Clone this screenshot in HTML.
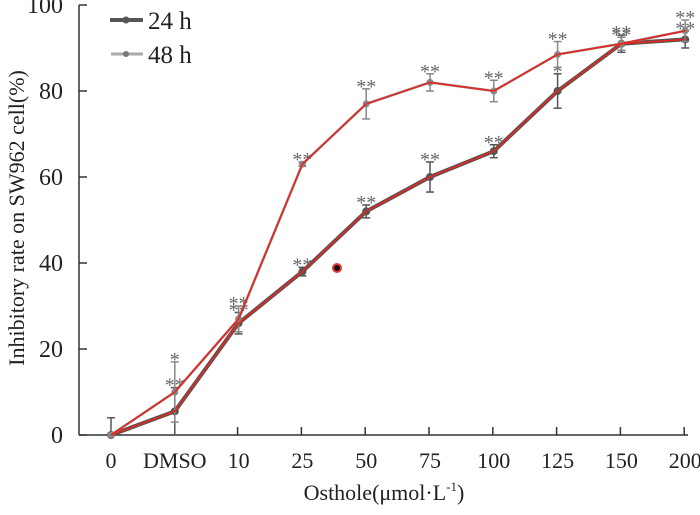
<!DOCTYPE html>
<html><head><meta charset="utf-8"><style>
body{margin:0;background:#fff;}
svg{display:block;font-family:"Liberation Serif",serif;}
</style></head><body>
<svg id="chart" width="700" height="515" viewBox="0 0 700 515" xmlns="http://www.w3.org/2000/svg">
<g id="axes"></g>
<g id="series"></g>
<g>
  <g>
    <line x1="110" y1="20" x2="143" y2="20" stroke="#555" stroke-width="4"/>
    <circle cx="126" cy="20" r="3.5" fill="#555"/>
    <text x="148" y="29" font-size="25" fill="#222">24 h</text>
  </g>
  <g>
    <line x1="111" y1="54" x2="143" y2="54" stroke="#aaa" stroke-width="3"/>
    <circle cx="126" cy="54" r="3" fill="#777"/>
    <text x="148" y="63" font-size="25" fill="#222">48 h</text>
  </g>
</g>
<text transform="translate(24,218) rotate(-90)" text-anchor="middle" font-size="22" fill="#222">Inhibitory rate on SW962 cell(%)</text>
<text x="384" y="500" text-anchor="middle" font-size="22" fill="#222">Osthole(μmol·L<tspan dy="-9" font-size="13">-1</tspan><tspan dy="9">)</tspan></text>
<circle cx="337" cy="268" r="4" fill="#111" stroke="#e33" stroke-width="2"/>
</svg>
<script>
const categories=["0","DMSO","10","25","50","75","100","125","150","200"];
const series24=[0,5.5,26,38,52,60,66,80,91,92];
const err24=[4,5.5,2.5,1,1.5,3.5,1.5,4,2,2];
const stars24=["","**","**","**","**","**","**","*","**","**"];
const series48=[0,10,27,63,77,82,80,88.5,91,94];
const err48=[0,7,3,0.5,3.5,2,2.5,3,1.5,2.5];
const stars48=["","*","**","**","**","**","**","**","**","**"];
const yTicks=[0,20,40,60,80,100];

const NS="http://www.w3.org/2000/svg";
const X0=111,DX=63.8,Y0=435,YS=4.3;
const xs=i=>X0+i*DX;
const ys=v=>Y0-v*YS;
function mk(tag,attrs,parent){const e=document.createElementNS(NS,tag);for(const k in attrs)e.setAttribute(k,attrs[k]);parent.appendChild(e);return e;}
const axes=document.getElementById('axes');
const ser=document.getElementById('series');
let a=mk('line',{x1:79,y1:5,x2:79,y2:435,stroke:'#333','stroke-width':1.5},axes);


a=mk('line',{x1:79,y1:435,x2:688,y2:435,stroke:'#333','stroke-width':1.5},axes);


yTicks.forEach(v=>{
  mk('line',{x1:79,y1:ys(v),x2:87,y2:ys(v),stroke:'#333','stroke-width':1.5},axes);
  const t=mk('text',{x:63,y:ys(v)+8,'text-anchor':'end','font-size':24,fill:'#222'},axes);
  t.textContent=v;
  
  
});
categories.forEach((c,i)=>{
  if(i>=2){mk('line',{x1:xs(i)-1,y1:435,x2:xs(i)-1,y2:427,stroke:'#333','stroke-width':1.5},axes);}
  const t=mk('text',{x:xs(i),y:468,'text-anchor':'middle','font-size':22,fill:'#222'},axes);
  t.textContent=c;
  
  
});
function drawSeries(vals,errs,stars,color,lw,r,name,starOff){
  const g=mk('g',{},ser);
  
  
  const pts=vals.map((v,i)=>xs(i)+','+ys(v)).join(' ');
  mk('polyline',{points:pts,fill:'none',stroke:color,'stroke-width':lw},g);
  vals.forEach((v,i)=>{
    const x=xs(i),y=ys(v),e=errs[i];
    if(e>0){
      mk('line',{x1:x,y1:ys(v+e),x2:x,y2:ys(Math.max(0,v-e)),stroke:color,'stroke-width':1.5},g);
      mk('line',{x1:x-4,y1:ys(v+e),x2:x+4,y2:ys(v+e),stroke:color,'stroke-width':1.5},g);
      mk('line',{x1:x-4,y1:ys(Math.max(0,v-e)),x2:x+4,y2:ys(Math.max(0,v-e)),stroke:color,'stroke-width':1.5},g);
    }
    const c=mk('circle',{cx:x,cy:y,r:r,fill:color},g);
    
    
    if(stars[i]){
      const t=mk('text',{x:x,y:ys(v+e)+starOff,'text-anchor':'middle','font-size':20,fill:'#666'},g);
      t.textContent=stars[i];
    }
  });
  return g;
}
drawSeries(series24,err24,stars24,'#555',4,4,'series-24h',4);
drawSeries(series48,err48,stars48,'#888',2.5,3.5,'series-48h',4);
[series24,series48].forEach((vals,k)=>{
  const p=mk('polyline',{points:vals.map((v,i)=>xs(i)+','+ys(v)).join(' '),fill:'none',stroke:'#e8251e','stroke-width':1.6},ser);
  
  
});
</script>
</body></html>
